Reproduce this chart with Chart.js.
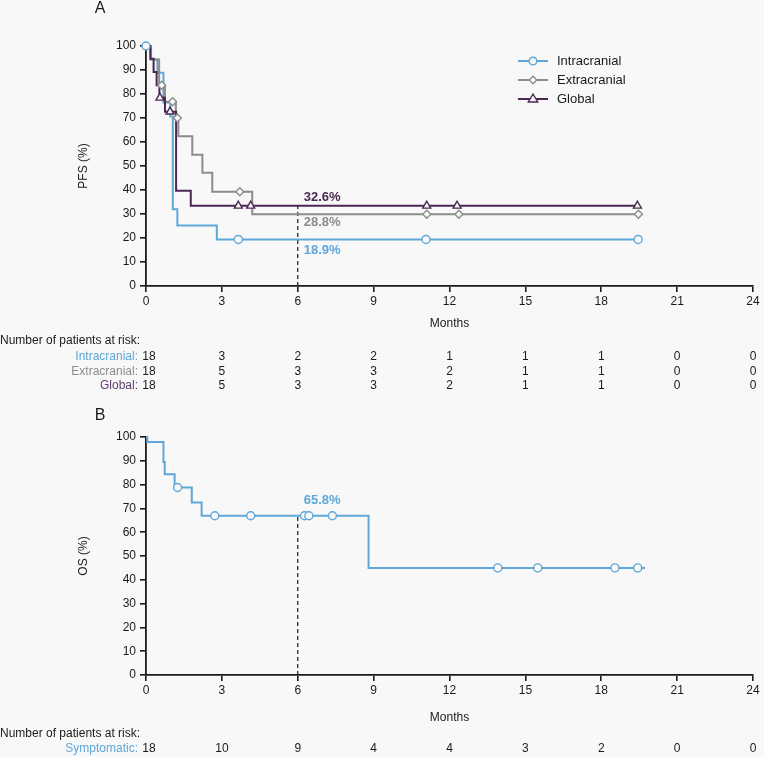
<!DOCTYPE html>
<html><head><meta charset="utf-8">
<script src="https://cdn.jsdelivr.net/npm/chart.js@4"></script>
<style>
html,body{margin:0;padding:0;background:#f8f8f8;width:764px;height:757px;overflow:hidden;}
canvas{position:absolute;left:0;}
#a{top:0;}
#b{top:395px;}
</style></head><body>
<canvas id="a" width="764" height="395"></canvas>
<canvas id="b" width="764" height="362"></canvas>
<script>
// ---------- data ----------
const monthTicks = [0, 3, 6, 9, 12, 15, 18, 21, 24];
const pctTicks = [0, 10, 20, 30, 40, 50, 60, 70, 80, 90, 100];

// Panel A: PFS step curves [month, survival %]
const intraSteps = [[0,100],[0.2,94.4],[0.45,88.9],[0.69,76.5],[0.96,70.6],[1.06,32.0],[1.24,25.2],[2.8,19.4],[19.46,19.4]];
const extraSteps = [[0,100],[0.19,94.4],[0.52,83.6],[0.75,76.8],[1.18,70.0],[1.28,62.4],[1.83,54.7],[2.23,47.2],[2.62,39.3],[4.2,29.9],[19.47,29.9]];
const globalSteps = [[0,100],[0.17,94.7],[0.3,89.2],[0.42,83.6],[0.53,78.4],[0.75,72.6],[1.19,39.7],[1.77,33.4],[19.43,33.4]];
// censor marks
const intraCensor = [[0,100],[3.65,19.4],[11.07,19.4],[19.46,19.4]];
const extraCensor = [[0.62,83.6],[1.05,76.8],[1.24,70.0],[3.71,39.3],[11.1,29.9],[12.37,29.9],[19.47,29.9]];
const globalCensor = [[0.55,78.4],[0.95,72.6],[3.65,33.4],[4.14,33.4],[11.1,33.4],[12.3,33.4],[19.43,33.4]];
const pfsAt6 = [["32.6%", 36.9], ["28.8%", 26.3], ["18.9%", 15.0]];
const pfsRiskLabels = ["Intracranial:", "Extracranial:", "Global:"];
const riskIntra = [18, 3, 2, 2, 1, 1, 1, 0, 0];
const riskExtra = [18, 5, 3, 3, 2, 1, 1, 0, 0];
const riskGlobal = [18, 5, 3, 3, 2, 1, 1, 0, 0];
const legendNames = ["Intracranial", "Extracranial", "Global"];

// Panel B: OS
const osSteps = [[0,100],[0.05,97.9],[0.69,89.5],[0.74,84.3],[1.13,78.8],[1.81,72.5],[2.2,66.9],[8.8,45.0],[19.73,45.0]];
const osCensor = [[1.25,78.8],[2.72,66.9],[4.14,66.9],[6.27,66.9],[6.44,66.9],[7.37,66.9],[13.91,45.0],[15.49,45.0],[18.54,45.0],[19.44,45.0]];
const osAt6 = [["65.8%", 73.4]];
const osRiskLabels = ["Symptomatic:"];
const riskSympt = [18, 10, 9, 4, 4, 3, 2, 0, 0];

// ---------- styling ----------
const BG = '#f8f8f8';
const BLUE = '#5ea7d8', GRAY = '#8c8c8c', PURPLE = '#4b2755';
const PURPLE_TXT = '#5e3c6c';
const INK = '#1a1a1a';
const FONT = '"Liberation Sans", Arial, Helvetica, sans-serif';
Chart.defaults.font.family = FONT;
Chart.defaults.color = INK;

const toXY = a => a.map(p => ({x: p[0], y: p[1]}));
function stepDs(pts, color, order) {
  return {data: toXY(pts), showLine: true, stepped: true, borderColor: color, borderWidth: 2,
          pointRadius: 0, pointHoverRadius: 0, fill: false, clip: false, order: order};
}
function censorDs(pts, color, style, r) {
  return {data: toXY(pts), showLine: false, pointStyle: style, pointRadius: r, pointHoverRadius: r,
          pointBorderColor: color, pointBackgroundColor: BG, pointBorderWidth: 1.4, clip: false, order: 0};
}
function dashDs(yTop) {
  return {data: [{x: 6, y: 0}, {x: 6, y: yTop}], showLine: true, borderDash: [4, 3], borderColor: INK,
          borderWidth: 1.2, pointRadius: 0, pointHoverRadius: 0, clip: false, order: 5};
}

function scalesCfg(yTitle, xHeight, monthsPadBottom) {
  return {
    x: {type: 'linear', min: 0, max: 24,
        afterBuildTicks: s => { s.ticks = monthTicks.map(v => ({value: v})); },
        afterFit: s => { s.height = xHeight; },
        ticks: {font: {size: 12}, color: INK, padding: 2, maxRotation: 0},
        grid: {drawOnChartArea: false, drawTicks: true, tickLength: 6, color: INK, lineWidth: 1.6},
        border: {display: true, color: INK, width: 1.8},
        title: {display: true, text: 'Months', font: {size: 12}, color: INK, padding: {top: 0, bottom: monthsPadBottom}}},
    y: {type: 'linear', min: 0, max: 100,
        afterBuildTicks: s => { s.ticks = pctTicks.map(v => ({value: v})); },
        afterFit: s => { s.width = 74; },
        ticks: {font: {size: 12}, color: INK, padding: 4},
        grid: {drawOnChartArea: false, drawTicks: true, tickLength: 6, color: INK, lineWidth: 1.6},
        border: {display: true, color: INK, width: 1.8},
        title: {display: true, text: yTitle, font: {size: 12}, color: INK, padding: {top: 4, bottom: 0}}}
  };
}

function riskPlugin(headY, rowY0, rowGap, labels, colors, rows, panelLetter, letterY) {
  return {
    id: 'risk' + panelLetter,
    afterDraw(chart) {
      const ctx = chart.ctx, xs = chart.scales.x;
      ctx.save();
      ctx.font = '16px ' + FONT; ctx.fillStyle = INK; ctx.textAlign = 'center'; ctx.textBaseline = 'middle';
      ctx.fillText(panelLetter, 100, letterY);
      ctx.font = '12px ' + FONT;
      ctx.textAlign = 'left';
      ctx.fillText('Number of patients at risk:', 0, headY);
      rows.forEach((row, i) => {
        const y = rowY0 + i * rowGap;
        ctx.textAlign = 'right'; ctx.fillStyle = colors[i];
        ctx.fillText(labels[i], 138, y);
        ctx.textAlign = 'center'; ctx.fillStyle = INK;
        row.forEach((n, j) => ctx.fillText(String(n), xs.getPixelForValue(monthTicks[j]) + (j === 0 ? 3 : 0), y));
      });
      ctx.restore();
    }
  };
}

function pctLabelPlugin(id, items, colors) {
  return {
    id: id,
    afterDatasetsDraw(chart) {
      const ctx = chart.ctx, xs = chart.scales.x, ys = chart.scales.y;
      ctx.save();
      ctx.font = 'bold 13px ' + FONT; ctx.textAlign = 'left'; ctx.textBaseline = 'middle';
      items.forEach((it, i) => {
        ctx.fillStyle = colors[i];
        ctx.fillText(it[0], xs.getPixelForValue(6) + 6, ys.getPixelForValue(it[1]));
      });
      ctx.restore();
    }
  };
}

function drawMarker(ctx, style, x, y, r, color) {
  ctx.beginPath();
  if (style === 'circle') ctx.arc(x, y, r, 0, Math.PI * 2);
  else if (style === 'rectRot') { ctx.moveTo(x, y - r); ctx.lineTo(x + r, y); ctx.lineTo(x, y + r); ctx.lineTo(x - r, y); ctx.closePath(); }
  else { ctx.moveTo(x, y - r); ctx.lineTo(x + r * 0.95, y + r * 0.6); ctx.lineTo(x - r * 0.95, y + r * 0.6); ctx.closePath(); }
  ctx.fillStyle = BG; ctx.fill();
  ctx.strokeStyle = color; ctx.lineWidth = 1.4; ctx.stroke();
}

const legendPlugin = {
  id: 'kmLegend',
  afterDraw(chart) {
    const ctx = chart.ctx;
    const styles = ['circle', 'rectRot', 'triangle'];
    const cols = [BLUE, GRAY, PURPLE];
    const rs = [3.8, 3.8, 5];
    ctx.save();
    legendNames.forEach((name, i) => {
      const y = 61 + i * 19;
      ctx.strokeStyle = cols[i]; ctx.lineWidth = 2;
      ctx.beginPath(); ctx.moveTo(518, y); ctx.lineTo(548, y); ctx.stroke();
      drawMarker(ctx, styles[i], 533, y, rs[i], cols[i]);
      ctx.fillStyle = INK; ctx.font = '13px ' + FONT; ctx.textAlign = 'left'; ctx.textBaseline = 'middle';
      ctx.fillText(name, 557, y);
    });
    ctx.restore();
  }
};

const common = {
  responsive: false, animation: false, events: [],
  plugins: {legend: {display: false}, tooltip: {enabled: false}}
};

new Chart(document.getElementById('a'), {
  type: 'scatter',
  data: {datasets: [
    censorDs(globalCensor, PURPLE, 'triangle', 4.6),
    censorDs(extraCensor, GRAY, 'rectRot', 4),
    censorDs(intraCensor, BLUE, 'circle', 4),
    stepDs(globalSteps, PURPLE, 2),
    stepDs(extraSteps, GRAY, 3),
    stepDs(intraSteps, BLUE, 4),
    dashDs(globalSteps[globalSteps.length - 1][1])
  ]},
  options: Object.assign({}, common, {
    layout: {padding: {left: 72, right: 11, top: 46, bottom: 0}},
    scales: scalesCfg('PFS (%)', 109, 64)
  }),
  plugins: [legendPlugin,
    pctLabelPlugin('pfsLbl', pfsAt6, [PURPLE, GRAY, BLUE]),
    riskPlugin(341, 357, 14.5, pfsRiskLabels, [BLUE, GRAY, PURPLE_TXT], [riskIntra, riskExtra, riskGlobal], 'A', 9)]
});

new Chart(document.getElementById('b'), {
  type: 'scatter',
  data: {datasets: [
    censorDs(osCensor, BLUE, 'circle', 4),
    stepDs(osSteps, BLUE, 2),
    dashDs(osCensor[3][1])
  ]},
  options: Object.assign({}, common, {
    layout: {padding: {left: 72, right: 11, top: 42, bottom: 0}},
    scales: scalesCfg('OS (%)', 82, 32)
  }),
  plugins: [pctLabelPlugin('osLbl', osAt6, [BLUE]),
    riskPlugin(339, 354, 14.5, osRiskLabels, [BLUE], [riskSympt], 'B', 21)]
});
</script>
</body></html>
